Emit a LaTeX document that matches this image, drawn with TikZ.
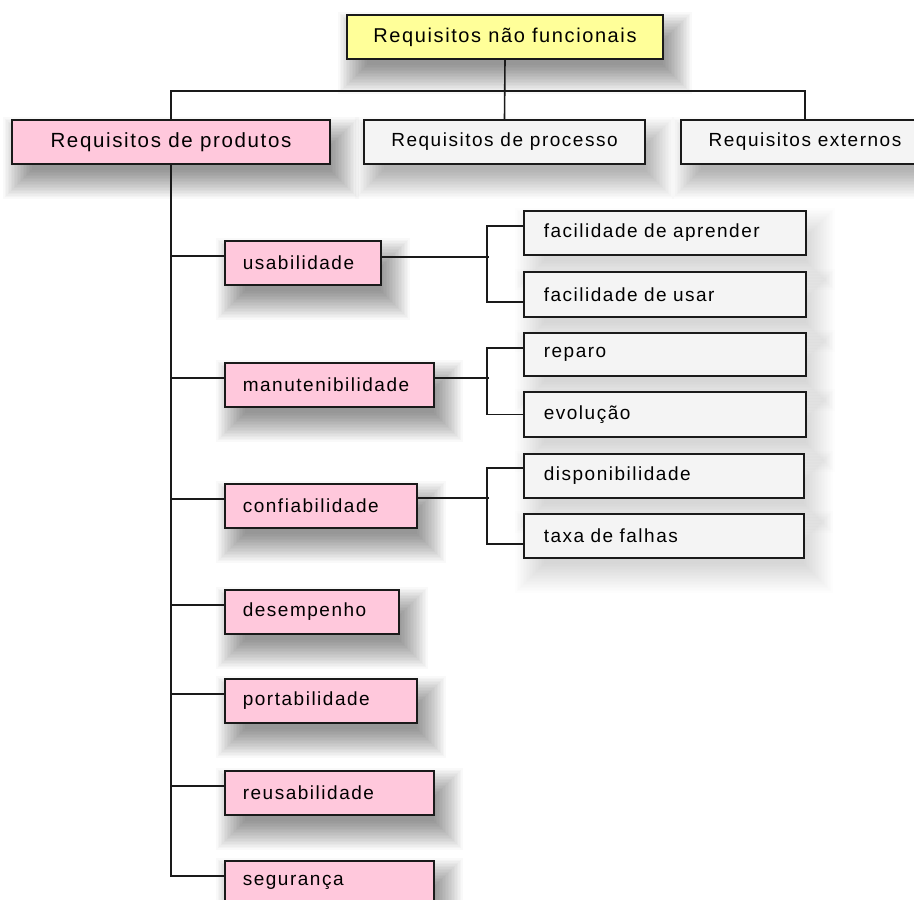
\documentclass[tikz,border=0pt]{standalone}
\usepackage{fontspec}
\setmainfont{Liberation Sans}[LetterSpace=8]
\usetikzlibrary{backgrounds}
\definecolor{nfyellow}{HTML}{FFFF99}
\definecolor{nfpink}{HTML}{FFC8DC}
\definecolor{nfwhite}{HTML}{F4F4F4}
\definecolor{nfline}{HTML}{1A1A1A}
\newcommand{\nfshadow}[2]{%
  \begin{pgfonlayer}{background}
  \foreach \e in {18,16.5,...,-11}
    \fill[black, opacity=#2]
      ([xshift={(10-\e)*1pt}, yshift={(-16-\e)*1pt}]#1.south west) rectangle
      ([xshift={(10+\e)*1pt}, yshift={(-16+\e)*1pt}]#1.north east);
  \end{pgfonlayer}}
\begin{document}
\begin{tikzpicture}[x=1pt,y=-1pt,
  box/.style={draw=nfline, line width=1.6pt, inner ysep=0pt, minimum height=44pt,
    font=\fontsize{19}{22}\selectfont, text=black},
  topbox/.style={box, align=center, inner xsep=0pt},
  kid/.style={box, fill=nfpink, anchor=north west, align=left, inner xsep=18pt},
  leaf/.style={box, fill=nfwhite, anchor=north west, align=left, inner xsep=20pt},
  conn/.style={draw=nfline, line width=1.6pt}
]
\useasboundingbox (0,0) rectangle (914,900);
\begin{pgfonlayer}{background}
\fill[white] (0,0) rectangle (914,900);
\end{pgfonlayer}

% top levels
\node[topbox, fill=nfyellow, minimum width=316pt, font=\fontsize{20}{24}\selectfont] (top) at (505,37) {Requisitos não funcionais};
\node[topbox, fill=nfpink, minimum width=318pt, font=\fontsize{20.5}{24}\selectfont] (prod) at (171,142) {Requisitos de produtos};
\node[topbox, fill=nfwhite, minimum width=281pt] (proc) at (504.5,142) {Requisitos de processo};
\node[topbox, fill=nfwhite, minimum width=248pt] (ext) at (805,142) {Requisitos externos};

% product children
\node[kid, text width=120pt] (usab) at (224,240) {usabilidade};
\node[kid, text width=173pt] (manut) at (224,362) {manutenibilidade};
\node[kid, text width=156pt] (confi) at (224,483) {confiabilidade};
\node[kid, text width=138pt] (desemp) at (224,589) {desempenho};
\node[kid, text width=156pt] (porta) at (224,678) {portabilidade};
\node[kid, text width=173pt] (reusa) at (224,770) {reusabilidade};
\node[kid, text width=173pt] (segur) at (224,860) {segurança};

% leaves
\node[leaf, text width=242pt] (fa) at (523,210) {facilidade de aprender};
\node[leaf, text width=242pt, minimum height=45pt] (fu) at (523,271) {facilidade de usar};
\node[leaf, text width=242pt, minimum height=43pt] (rep) at (523,332) {reparo};
\node[leaf, text width=242pt, minimum height=45pt] (evo) at (523,391) {evolução};
\node[leaf, text width=240pt] (disp) at (523,453) {disponibilidade};
\node[leaf, text width=240pt] (taxa) at (523,513) {taxa de falhas};

% shadows
\foreach \n in {top,prod,usab,manut,confi,desemp,porta,reusa,segur}
  {\nfshadow{\n}{0.024}}
\foreach \n in {proc,ext}
  {\nfshadow{\n}{0.016}}
\foreach \n in {fa,fu,rep,evo,disp,taxa}
  {\nfshadow{\n}{0.007}}

% connectors
\coordinate (hub) at (505,91);
\draw[conn] (top.south) -- (proc.north);
\draw[conn] (prod.north) |- (hub) -| (ext.north);
\draw[conn] (prod.south) |- ([yshift=7pt]segur.west);
\foreach \n in {usab,manut,confi,desemp,porta,reusa}
  \draw[conn] ([yshift=7pt]\n.west) -- ++(-53pt,0);

\draw[conn] ([yshift=6pt]usab.east) -- ++(107pt,0);
\draw[conn] ([yshift=7pt]fa.west) -- ++(-36pt,0) |- ([yshift=-7.5pt]fu.west);
\draw[conn] ([yshift=7pt]manut.east) -- ++(54pt,0);
\draw[conn] ([yshift=6.5pt]rep.west) -- ++(-36pt,0) |- (evo.west);
\draw[conn] ([yshift=8pt]confi.east) -- ++(71pt,0);
\draw[conn] ([yshift=8pt]disp.west) -- ++(-36pt,0) |- ([yshift=-8pt]taxa.west);
\end{tikzpicture}
\end{document}
